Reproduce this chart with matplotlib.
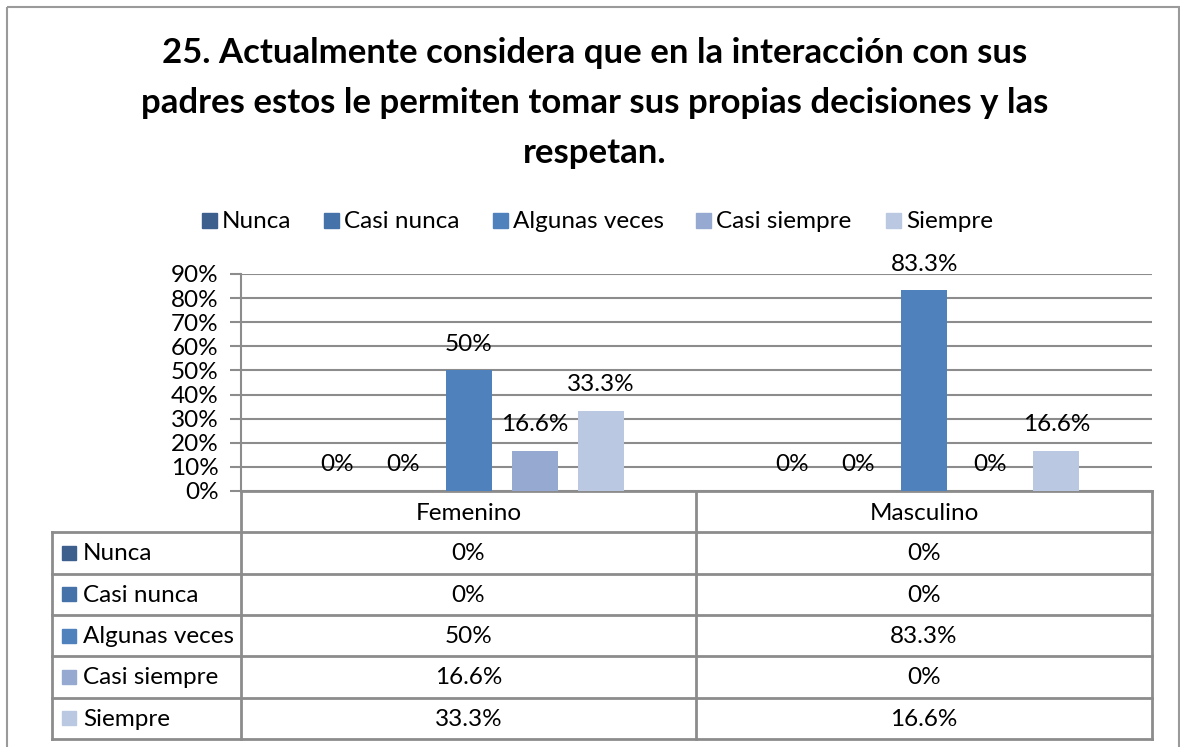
import matplotlib.pyplot as plt
import numpy as np
from matplotlib.patches import Rectangle

plt.rcParams['font.family'] = ['Lato', 'DejaVu Sans']

# datos
title = ("25. Actualmente considera que en la interacción con sus\n"
         "padres estos le permiten tomar sus propias decisiones y las\n"
         "respetan.")
groups = ["Femenino", "Masculino"]
series = ["Nunca", "Casi nunca", "Algunas veces", "Casi siempre", "Siempre"]
values = [
    [0.0, 0.0],      # Nunca
    [0.0, 0.0],      # Casi nunca
    [0.50, 0.833],   # Algunas veces
    [0.166, 0.0],    # Casi siempre
    [0.333, 0.166],  # Siempre
]
labels = [
    ["0%", "0%"],
    ["0%", "0%"],
    ["50%", "83.3%"],
    ["16.6%", "0%"],
    ["33.3%", "16.6%"],
]
colors = ["#3C5F8E", "#4672AA", "#4F81BD", "#95A9D1", "#BBC8E2"]
yticks = [0, 0.1, 0.2, 0.3, 0.4, 0.5, 0.6, 0.7, 0.8, 0.9]

W, H = 1180, 747
fs = 17.5
fig = plt.figure(figsize=(W / 100, H / 100), dpi=100)

# capa de fondo en pixeles
bg = fig.add_axes([0, 0, 1, 1])
bg.set_xlim(0, W)
bg.set_ylim(H, 0)
bg.axis('off')
bg.add_patch(Rectangle((7, 7), 1172, 760, fill=False, edgecolor='#9A9A9A', lw=1.5))

bg.text(595, 103, title, ha='center', va='center', fontsize=25, fontweight='bold',
        linespacing=1.68)

# leyenda
leg_x = [202, 324, 493, 696, 886]
for xx, name, c in zip(leg_x, series, colors):
    bg.add_patch(Rectangle((xx, 213), 15, 15, color=c))
    bg.text(xx + 20, 221, name, ha='left', va='center', fontsize=fs)

# grafico
x0, x1, y0, y1 = 241, 1152, 274, 491
ax = fig.add_axes([x0 / W, 1 - y1 / H, (x1 - x0) / W, (y1 - y0) / H])
ax.set_xlim(-0.5, 1.5)
ax.set_ylim(0, 0.9)
ax.set_yticks(yticks)
ax.set_yticklabels([f"{int(round(t * 100))}%" for t in yticks], fontsize=fs)
ax.yaxis.grid(True, color='#8C8C8C', lw=1.5)
ax.set_axisbelow(True)
for s in ['top', 'right', 'bottom']:
    ax.spines[s].set_visible(False)
ax.spines['left'].set_color('#8C8C8C')
ax.spines['left'].set_linewidth(1.5)
ax.tick_params(axis='y', length=8, width=1.5, color='#8C8C8C', pad=8)
ax.set_xticks([])

x = np.arange(len(groups))
step, width = 0.145, 0.101
for i, (name, c) in enumerate(zip(series, colors)):
    pos = x + (i - 2) * step
    ax.bar(pos, values[i], width=width, color=c, zorder=2)
    for p, v, lab in zip(pos, values[i], labels[i]):
        ax.text(p, v + 0.108, lab, ha='center', va='center', fontsize=fs)

# tabla de datos
tl, tc, tm, tr = 52, 241, 696, 1152
rows_y = np.linspace(491, 739, 7)
lc = '#8C8C8C'
bg.plot([tc, tr], [rows_y[0], rows_y[0]], color=lc, lw=2)
for yy in rows_y[1:]:
    bg.plot([tl, tr], [yy, yy], color=lc, lw=2)
for xx in [tc, tm, tr]:
    bg.plot([xx, xx], [rows_y[0], rows_y[-1]], color=lc, lw=2)
bg.plot([tl, tl], [rows_y[1], rows_y[-1]], color=lc, lw=2)

cx = [(tc + tm) / 2, (tm + tr) / 2]
for g, xx in zip(groups, cx):
    bg.text(xx, (rows_y[0] + rows_y[1]) / 2 + 2, g, ha='center', va='center', fontsize=fs)
for i, (name, c) in enumerate(zip(series, colors)):
    yc = (rows_y[i + 1] + rows_y[i + 2]) / 2
    bg.add_patch(Rectangle((62, yc - 7), 14, 14, color=c))
    bg.text(83, yc + 1, name, ha='left', va='center', fontsize=fs)
    for xx, lab in zip(cx, labels[i]):
        bg.text(xx, yc + 1, lab, ha='center', va='center', fontsize=fs)

fig.savefig('out.png', dpi=100)
